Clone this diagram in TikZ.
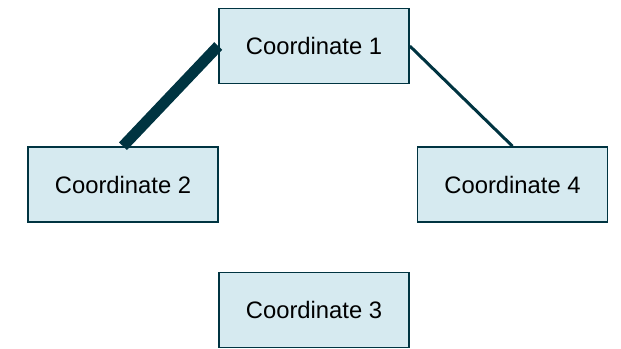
\documentclass[tikz,border=0pt]{standalone}
\usepackage{fontspec}
\setmainfont{Liberation Sans}
\usepackage{tikz}
\usetikzlibrary{positioning}
\definecolor{boxfill}{HTML}{D6EAF0}
\definecolor{boxline}{HTML}{003441}

\begin{document}
\begin{tikzpicture}[
        x=0.5pt,y=-0.5pt,
        coord/.style={font=\fontsize{11.9}{14}\selectfont,fill=boxfill,draw=boxline,line width=0.8pt,rectangle,minimum width=95pt,minimum height=37.5pt,inner sep=0pt},
        thickedge/.style={boxline,line width=5.5pt},
        thinedge/.style={boxline,line width=1.5pt}
    ]
    \useasboundingbox (0,0) rectangle (621,348);
    \node[coord] (1) at (314,46) {Coordinate 1};
    \node[coord] (2) at (123,184.5) {Coordinate 2};
    \node[coord] (4) at (512.5,184.5) {Coordinate 4};
    \node[coord] (3) at (314,310) {Coordinate 3};
    \draw[thickedge] (1.west)--(2.north);
    \draw[thinedge] (1.east)--(4.north);
\end{tikzpicture}
\end{document}
